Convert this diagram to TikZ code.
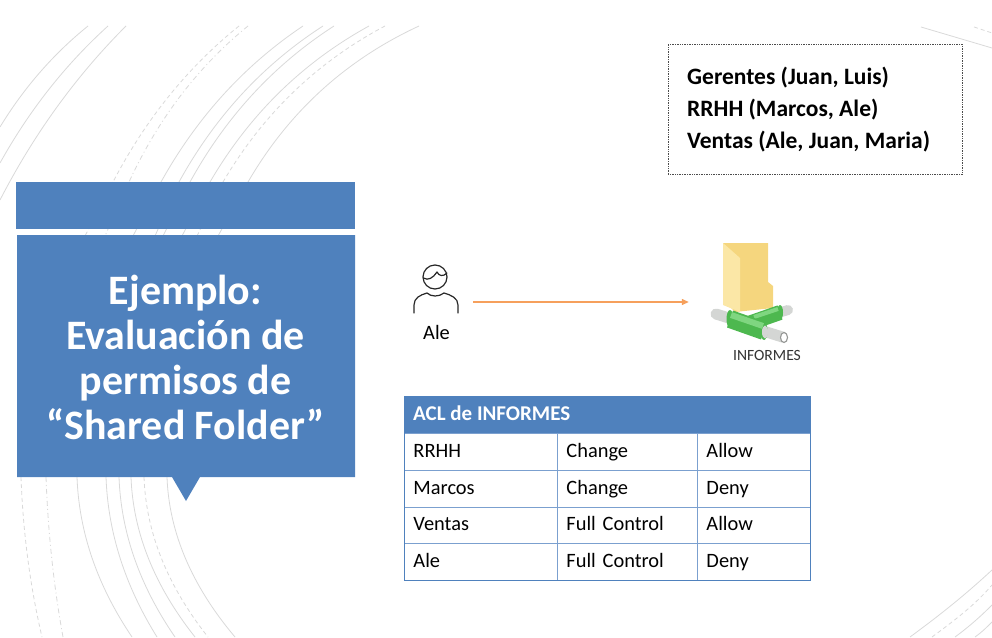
\documentclass[tikz,border=0pt]{standalone}
\usepackage{fontspec}
\setmainfont{Carlito}
\usetikzlibrary{arrows.meta,calc}
\definecolor{blu}{HTML}{4F81BD}
\definecolor{blul}{HTML}{7BA0CF}
\definecolor{arc}{HTML}{D9D9D9}
\definecolor{orng}{HTML}{F6A05C}
\definecolor{foldb}{HTML}{F5D67E}
\definecolor{foldf}{HTML}{FBE7A6}
\definecolor{pg}{HTML}{4DB84F}
\definecolor{pgl}{HTML}{7FD680}
\definecolor{pgr}{HTML}{D4D6D4}
\tikzset{
 x=1pt,y=-1pt,
 arcs/.style={draw=arc,line width=0.8pt},
 arcd/.style={arcs,dash pattern=on 4pt off 3pt},
 arcdd/.style={arcs,dash pattern=on 5pt off 3pt on 1pt off 3pt},
 cell/.style={draw=blul,line width=0.9pt,minimum height=36.75pt,anchor=north west,inner ysep=0pt,inner xsep=9pt,text height=14pt,text depth=3pt,align=left,font=\fontsize{20.4}{24}\selectfont,text=black},
 icon/.style={draw=black!85,line width=1.2pt,line cap=round,line join=round},
 hub/.style={inner sep=0pt,minimum height=1pt},
}
% quadratic arc from #2 through control #3 to #4, style #1
\newcommand{\qarc}[4]{\draw[#1] #2 .. controls ($#2!0.667!#3$) and ($#4!0.667!#3$) .. #4;}
\begin{document}
\begin{tikzpicture}
\useasboundingbox (0,0) rectangle (992,637);
% background arcs
\qarc{arcs}{(0,127)}{(36,68)}{(88,26)}
\qarc{arcs}{(0,163)}{(44,84)}{(108,26)}
\qarc{arcs}{(0,200)}{(51,101)}{(126,26)}
\foreach \st/\xa/\cx/\cy/\xb/\xc/\xd/\xe in {
 arcd/239/162/88/113/85/21/42,
 arcdd/248/173/87/129/105/46/63,
 arcs/303/215/85/161/133/77/132,
 arcs/323/233/84/179/155/106/157,
 arcs/334/244/84/190/163/119/175,
 arcs/369/269/81/210/182/131/195,
 arcd/385/283/80/223/197/144/208,
 arcs/419/309/77/248/218/167/235}{
  \qarc{\st}{(\xa,26)}{(\cx,\cy)}{(\xb,182)}
  \draw[\st] (\xb,182) -- (\xc,236);
  \pgfmathsetmacro\xq{\xd+3}
  \qarc{\st}{(\xd,477)}{(\xq,560)}{(\xe,637)}
}
\draw[arcs] (921,27) -- (992,48);
\draw[arcd] (974,27) -- (992,33);
\draw[arcs] (910,637) .. controls (940,615) and (965,595) .. (992,570);
\draw[arcd] (932,637) .. controls (955,620) and (975,605) .. (992,585);
\draw[arcs] (955,637) .. controls (970,626) and (982,615) .. (992,605);
\draw[arcs] (975,637) .. controls (982,632) and (987,627) .. (992,622);

% legend
\node[draw=black!70,densely dotted,line width=0.7pt,minimum width=294pt,minimum height=130pt,anchor=north west,inner sep=0pt] (legend) at (668,44) {};
\node[anchor=west,align=left,font=\fontsize{23.5}{32}\selectfont\bfseries,text=black,inner sep=0pt] (legendtext) at (687,109.5) {Gerentes (Juan, Luis)\\RRHH (Marcos, Ale)\\Ventas (Ale, Juan, Maria)};

% title panel
\fill[blu] (16,182) rectangle (355,229);
\fill[blu] (17,235) -- (355,235) -- (355,477) -- (200,477) -- (186,501) -- (172,477) -- (17,477) -- cycle;
\node[align=center,text=white,font=\fontsize{41.9}{45}\selectfont\bfseries,inner sep=0pt] (title) at (185.5,357.5) {Ejemplo:\\Evaluación de\\permisos de\\“Shared Folder”};

% person
\node[hub,minimum width=74pt] (person) at (436,302) {};
\draw[icon] (435,277) circle (12);
\draw[icon] (423.5,278) .. controls (428,281) and (433,278) .. (437,272) .. controls (439,276) and (443,277) .. (447,273);
\draw[icon] (414,313) -- (414,305) .. controls (414,298) and (420,295) .. (427,293) .. controls (431,297) and (439,297) .. (444,293) .. controls (451,295) and (458,298) .. (458,305) -- (458,313);
\node[font=\fontsize{20.4}{24}\selectfont,inner sep=0pt] (ale) at (436.5,332) {Ale};

% folder
\fill[foldb] (723,243) -- (768,243) -- (768,282) -- (773,286) -- (773,308) -- (735,312) -- (723,300) -- cycle;
\fill[foldf] (723,243) -- (740,258) -- (740,312) -- (723,305) -- cycle;
\node[hub,minimum width=118pt] (folder) at (748,302) {};
% share pipes
\draw[pgr,line width=11pt,line cap=round] (716,314) -- (732,319);
\draw[pgr,line width=10pt,line cap=round] (778,313) -- (788,310);
\draw[pg,line width=15pt,line cap=butt] (750,323) -- (780,312.5);
\fill[pg] (780,312.5) ellipse (3 and 7.5);
\draw[pgl,line width=4pt] (754,317) -- (778,309);
\draw[pgr,line width=11pt,line cap=butt] (760,330) -- (784,337.5);
\draw[pg,line width=18pt,line cap=butt] (730,319) -- (764,331);
\fill[pg] (730,319) ellipse (3.5 and 9);
\fill[pg] (764,331) ellipse (3.5 and 9);
\draw[pgl,line width=6pt] (731,315) -- (763,326);
\fill[pgr] (765,332) ellipse (3 and 6.5);
\draw[pgr!70!black,fill=white,line width=1.1pt] (784,337.5) ellipse (3.5 and 5);
\node[font=\fontsize{15.6}{18}\selectfont,text=black!80,inner sep=0pt] (inf) at (767,355) {INFORMES};

\draw[orng,line width=1.3pt,-{Triangle[length=7pt,width=6pt]}] (person) -- (folder);

% table
\node[fill=blu,draw=blu,line width=0.9pt,anchor=north west,minimum width=405.5pt,minimum height=37pt,inner sep=0pt] (th) at (404,396) {};
\node[anchor=west,inner sep=0pt,text=white,font=\fontsize{21}{24}\selectfont\bfseries] (tht) at (413,413) {ACL de INFORMES};
\foreach \r/\a/\b [count=\i from 0] in {RRHH/Change/Allow,Marcos/Change/Deny,Ventas/Full Control/Allow,Ale/Full Control/Deny}{
  \pgfmathsetmacro\yy{433+36.75*\i}
  \node[cell,text width=135pt] (a\i) at (404,\yy) {\r};
  \node[cell,text width=122pt] (b\i) at (557,\yy) {\a};
  \node[cell,text width=94.5pt] (c\i) at (697,\yy) {\b};
}
\draw[blu,line width=1pt] (th.north west) rectangle (c3.south east);
\end{tikzpicture}
\end{document}
